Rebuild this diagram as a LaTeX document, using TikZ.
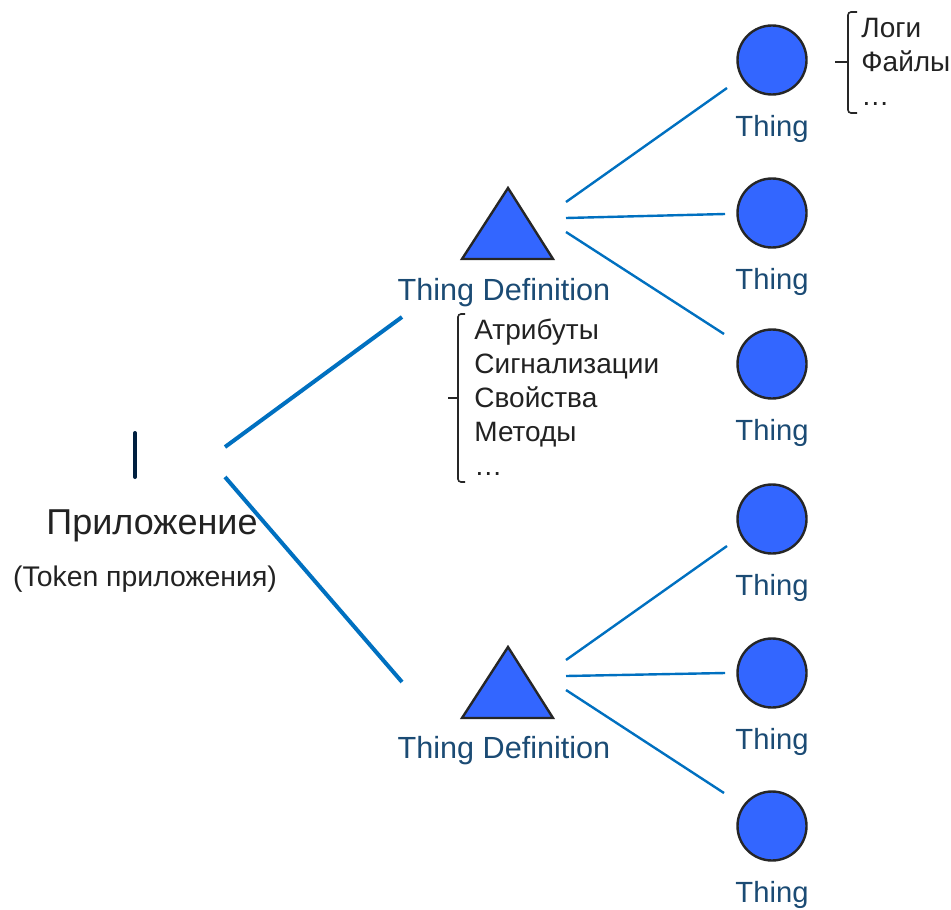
\documentclass[tikz,border=0pt]{standalone}
\usepackage{fontspec}
\setmainfont{Liberation Sans}
\usepackage{xcolor}
\usetikzlibrary{calc}

\definecolor{linkblue}{HTML}{0070C0}
\definecolor{shapeblue}{HTML}{3366FF}
\definecolor{labelblue}{HTML}{1B4B74}
\definecolor{barnavy}{HTML}{002040}
\definecolor{textgray}{HTML}{222222}

\tikzset{
	thing/.style={circle,draw=black!85,fill=shapeblue,line width=1.2pt,minimum size=34.5pt,inner sep=0pt},
	thinglabel/.style={text=labelblue,font=\fontsize{14.6}{16}\selectfont},
	deflabel/.style={text=labelblue,font=\fontsize{15.3}{17}\selectfont},
	biglink/.style={linkblue,line width=2pt},
	smalllink/.style={linkblue,line width=1.2pt},
	listtext/.style={text=textgray,align=left,anchor=north west,inner sep=0pt,font=\fontsize{14}{17}\selectfont},
	bracket/.style={black!85,line width=0.8pt,rounded corners=1.5pt}
}

\begin{document}
\begin{tikzpicture}[x=0.5pt,y=-0.5pt]
					\useasboundingbox (0,0) rectangle (951,909);
					
					% application
					\draw[barnavy,line width=2pt,line cap=round] (135,433) -- (135,477);
					\node[text=textgray,font=\fontsize{18}{20}\selectfont] (app) at (152,526) {Приложение};
					\node[text=textgray,font=\fontsize{14.2}{16}\selectfont] (token) at (145,579) {(Token приложения)};
					
					% thing definitions
					\coordinate (A1) at (508,188);
					\coordinate (B1) at (462,259);
					\coordinate (C1) at (553,259);
					\coordinate (A2) at (508,647);
					\coordinate (B2) at (462,718);
					\coordinate (C2) at (553,718);
					\draw[fill=shapeblue,draw=black!85,line width=1.2pt,line join=miter] (A1) -- (B1) -- (C1) -- cycle;
					\draw[fill=shapeblue,draw=black!85,line width=1.2pt,line join=miter] (A2) -- (B2) -- (C2) -- cycle;
					\node[deflabel] (def1) at (504,293) {Thing Definition};
					\node[deflabel] (def2) at (504,751) {Thing Definition};
					
					% things
					\foreach \n/\y in {1/60,2/213,3/364,4/519,5/673,6/826}{
						\node[thing] (t\n) at (772,\y) {};
						\node[thinglabel] (l\n) at ($(t\n)+(0,69)$) {Thing};
					}
					
					% links
					\coordinate (appup) at (225,447);
					\coordinate (appdown) at (225,477);
					\coordinate (in1) at (402,317);
					\coordinate (in2) at (402,682);
					\draw[biglink] (appup) -- (in1);
					\draw[biglink] (appdown) -- (in2);
					
					\coordinate (o1) at (566,202);
					\coordinate (o2) at (566,218);
					\coordinate (o3) at (566,232);
					\coordinate (o4) at (566,660);
					\coordinate (o5) at (566,676);
					\coordinate (o6) at (566,690);
					\coordinate (e1) at (727,88);
					\coordinate (e2) at (725,214);
					\coordinate (e3) at (724,334);
					\coordinate (e4) at (727,546);
					\coordinate (e5) at (725,673);
					\coordinate (e6) at (724,793);
					\foreach \n in {1,...,6}
						\draw[smalllink] (o\n) -- (e\n);
					
					% lists
					\draw[bracket] (465,314) -- (458,314) -- (458,482) -- (465,482);
					\draw[bracket] (448,398) -- (458,398);
					\node[listtext] (props) at (474,319) {Атрибуты\\Сигнализации\\Свойства\\Методы\\…};
					
					\draw[bracket] (857,12) -- (848,12) -- (848,113) -- (857,113);
					\draw[bracket] (835,62) -- (848,62);
					\node[listtext] (logs) at (861,18) {Логи\\Файлы\\…};
				\end{tikzpicture}
\end{document}
